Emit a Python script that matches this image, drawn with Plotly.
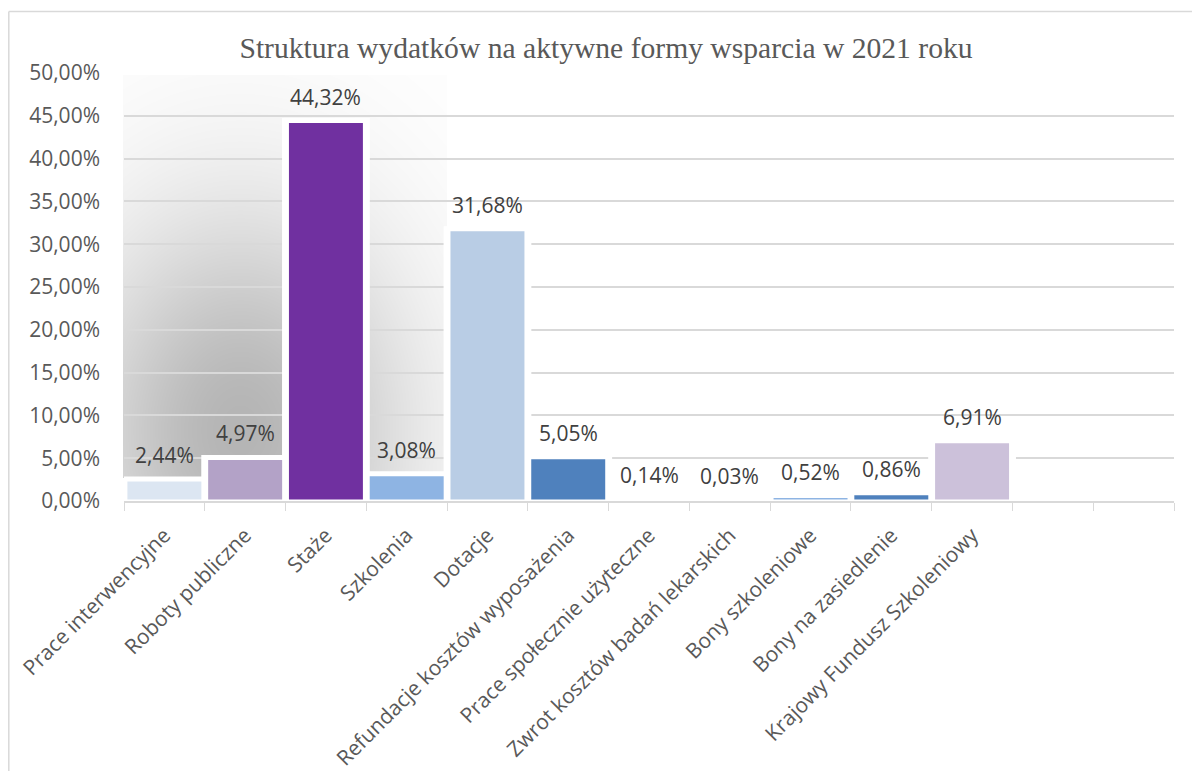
import base64, struct, zlib
import numpy as np
import plotly.graph_objects as go

categories = ["Prace interwencyjne", "Roboty publiczne", "Staże", "Szkolenia", "Dotacje",
              "Refundacje kosztów wyposażenia", "Prace społecznie użyteczne",
              "Zwrot kosztów badań lekarskich", "Bony szkoleniowe", "Bony na zasiedlenie",
              "Krajowy Fundusz Szkoleniowy"]
values = [2.44, 4.97, 44.32, 3.08, 31.68, 5.05, 0.14, 0.03, 0.52, 0.86, 6.91]
colors = ["#DCE6F2", "#B3A2C7", "#7030A0", "#8EB4E3", "#B9CDE5", "#4F81BD",
          "#C6D9F1", "#B3A2C7", "#8EB4E3", "#4F81BD", "#CCC1DA"]
empty_slots = [" ", "  "]
y_ticks = [0, 5, 10, 15, 20, 25, 30, 35, 40, 45, 50]
title = "Struktura wydatków na aktywne formy wsparcia w 2021 roku"

y_tick_labels = [f"{v:.2f}".replace(".", ",") + "%" for v in y_ticks]
labels = [f"{v:.2f}".replace(".", ",") + "%" for v in values]

OFF = 8  # default page body margin
W, H = 1200 - OFF, 771 - OFF
L, T = 124 - OFF, 73 - OFF
R = W - (1174 - OFF)
B = H - (501 - OFF)
pw, ph = W - L - R, H - T - B


def png_gray(arr):
    h, w = arr.shape
    raw = b"".join(b"\x00" + arr[i].tobytes() for i in range(h))
    def chunk(tag, data):
        c = tag + data
        return struct.pack(">I", len(data)) + c + struct.pack(">I", zlib.crc32(c) & 0xffffffff)
    png = b"\x89PNG\r\n\x1a\n" + chunk(b"IHDR", struct.pack(">IIBBBBB", w, h, 8, 0, 0, 0, 0))
    png += chunk(b"IDAT", zlib.compress(raw, 9)) + chunk(b"IEND", b"")
    return "data:image/png;base64," + base64.b64encode(png).decode()

# soft shadow glow behind the left part of the plot (absolute page pixels)
sx0, sx1, sy0, sy1 = 123, 447, 75, 478
xs = np.arange(sx0, sx1)[None, :]
ys = np.arange(sy0, sy1)[:, None]
dark = 0.29 * np.exp(-((xs - 240) / 118.0) ** 2 / 2) * np.exp(-((ys - 430) / 155.0) ** 2 / 2)
img = np.clip(255 * (1 - dark), 0, 255).astype(np.uint8)
shadow_src = png_gray(img)


def px_x(ax):
    return (ax - OFF - L) / pw


def px_y(ay):
    return (H - B - (ay - OFF)) / ph


fig = go.Figure()
fig.add_trace(go.Bar(x=categories, y=values, width=1.0,
                     marker=dict(color="white", line=dict(color="white", width=7)),
                     hoverinfo="skip", showlegend=False))
fig.add_trace(go.Bar(x=categories, y=values, width=0.953,
                     marker=dict(color=colors, line=dict(color="white", width=3)),
                     showlegend=False))

for c, v, t in zip(categories, values, labels):
    fig.add_annotation(x=c, y=v, text=t, showarrow=False, yanchor="middle", yshift=25,
                       font=dict(family="Open Sans", size=21, color="#404040"))

fig.add_layout_image(source=shadow_src, xref="paper", yref="paper",
                     x=px_x(sx0), y=px_y(sy0),
                     sizex=(sx1 - sx0) / pw, sizey=(sy1 - sy0) / ph,
                     xanchor="left", yanchor="top", sizing="stretch", layer="below")

# chart-area frame: only top and left edges are visible in the picture
fig.add_shape(type="line", xref="paper", yref="paper",
              x0=px_x(8.8), x1=px_x(1200), y0=px_y(11.5), y1=px_y(11.5),
              line=dict(color="#D9D9D9", width=1.5), layer="below")
fig.add_shape(type="line", xref="paper", yref="paper",
              x0=px_x(8.8), x1=px_x(8.8), y0=px_y(11.5), y1=px_y(771),
              line=dict(color="#D9D9D9", width=1.5), layer="below")

fig.update_layout(
    width=W, height=H, barmode="overlay",
    margin=dict(l=L, r=R, t=T, b=B, autoexpand=False),
    paper_bgcolor="white", plot_bgcolor="rgba(0,0,0,0)",
    title=dict(text=title, x=(606 - OFF) / W, xanchor="center", y=1 - (48 - OFF) / H,
               yanchor="middle",
               font=dict(family="Liberation Serif", size=29.6, color="#595959")),
    xaxis=dict(type="category", categoryorder="array", categoryarray=categories + empty_slots,
               range=[-0.5, len(categories) + len(empty_slots) - 0.5],
               tickangle=-45, tickson="boundaries", ticks="outside", ticklen=8,
               tickcolor="#D9D9D9", showline=True, linecolor="#D9D9D9", linewidth=1.5,
               showgrid=False, ticklabelstandoff=12,
               tickfont=dict(family="Open Sans", size=21, color="#595959")),
    yaxis=dict(range=[0, 50], tickmode="array", tickvals=y_ticks, ticktext=y_tick_labels,
               showgrid=True, gridcolor="#D9D9D9", gridwidth=1.5, zeroline=False,
               showline=False, ticks="", ticklabelstandoff=23,
               tickfont=dict(family="Open Sans", size=21, color="#595959")),
)

fig.write_html("out.html")
